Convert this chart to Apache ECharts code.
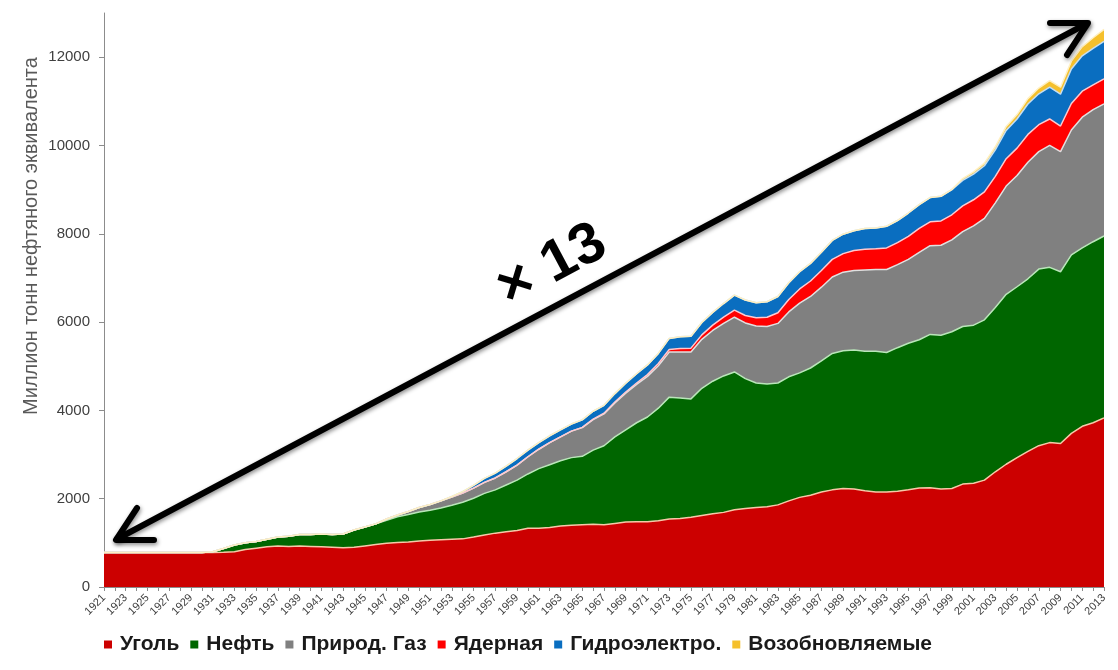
<!DOCTYPE html>
<html>
<head>
<meta charset="utf-8">
<script src="https://cdn.jsdelivr.net/npm/echarts@6/dist/echarts.min.js"></script>
<style>
  html, body { margin: 0; padding: 0; background: #fff; }
  #chart { width: 1118px; height: 670px; }
</style>
</head>
<body>
<div id="chart"></div>
<script>
// years on the x axis
var years = [
  '1921','1922','1923','1924','1925','1926','1927','1928','1929','1930',
  '1931','1932','1933','1934','1935','1936','1937','1938','1939','1940',
  '1941','1942','1943','1944','1945','1946','1947','1948','1949','1950',
  '1951','1952','1953','1954','1955','1956','1957','1958','1959','1960',
  '1961','1962','1963','1964','1965','1966','1967','1968','1969','1970',
  '1971','1972','1973','1974','1975','1976','1977','1978','1979','1980',
  '1981','1982','1983','1984','1985','1986','1987','1988','1989','1990',
  '1991','1992','1993','1994','1995','1996','1997','1998','1999','2000',
  '2001','2002','2003','2004','2005','2006','2007','2008','2009','2010',
  '2011','2012','2013'
];

// Mtoe per source (one row per decade)
var coal = [
  780, 780, 780, 780, 780, 780, 780, 780, 780, 780,
  780, 785, 800, 850, 880, 910, 930, 920, 930, 920,
  910, 900, 890, 900, 930, 960, 990, 1010, 1020, 1040,
  1060, 1070, 1080, 1090, 1130, 1180, 1220, 1250, 1280, 1330,
  1330, 1350, 1380, 1400, 1410, 1420, 1410, 1440, 1470, 1480,
  1480, 1500, 1540, 1550, 1580, 1620, 1660, 1690, 1750, 1780,
  1800, 1820, 1860, 1950, 2030, 2080, 2150, 2200, 2230, 2220,
  2180, 2150, 2150, 2170, 2200, 2240, 2250, 2220, 2230, 2330,
  2350, 2420, 2610, 2780, 2930, 3070, 3200, 3270, 3250, 3480,
  3640, 3720, 3830
];
var oil = [
  0, 0, 0, 0, 0, 0, 0, 0, 0, 0,
  20, 85, 150, 150, 150, 170, 200, 230, 260, 270,
  290, 290, 310, 390, 430, 470, 520, 580, 620, 660,
  680, 720, 770, 830, 880, 940, 980, 1060, 1140, 1230,
  1350, 1420, 1480, 1530, 1550, 1680, 1790, 1960, 2090, 2240,
  2370, 2550, 2760, 2730, 2680, 2880, 3000, 3090, 3120, 2940,
  2820, 2780, 2760, 2810, 2820, 2880, 2970, 3090, 3120, 3150,
  3160, 3190, 3160, 3250, 3320, 3360, 3470, 3480, 3550, 3570,
  3580, 3630, 3720, 3850, 3870, 3910, 4000, 3970, 3890, 4040,
  4040, 4100, 4120
];
var gas = [
  0, 0, 0, 0, 0, 0, 0, 0, 0, 0,
  0, 0, 0, 0, 0, 0, 0, 0, 0, 0,
  0, 0, 0, 0, 0, 0, 30, 40, 70, 100,
  130, 160, 190, 210, 230, 250, 270, 300, 340, 390,
  440, 500, 540, 600, 650, 690, 720, 770, 830, 870,
  920, 960, 1020, 1040, 1060, 1110, 1150, 1190, 1240, 1260,
  1290, 1300, 1350, 1470, 1580, 1620, 1670, 1730, 1780, 1800,
  1840, 1850, 1880, 1880, 1900, 1980, 2010, 2040, 2080, 2150,
  2250, 2300, 2370, 2450, 2520, 2640, 2660, 2760, 2720, 2830,
  2960, 2990, 2990
];
var nuclear = [
  0, 0, 0, 0, 0, 0, 0, 0, 0, 0,
  0, 0, 0, 0, 0, 0, 0, 0, 0, 0,
  0, 0, 0, 0, 0, 0, 0, 0, 0, 0,
  0, 0, 0, 0, 0, 0, 0, 0, 0, 0,
  0, 0, 0, 0, 5, 10, 15, 20, 25, 30,
  40, 50, 60, 80, 90, 100, 120, 140, 160, 170,
  190, 210, 240, 280, 320, 350, 380, 400, 420, 450,
  470, 470, 490, 500, 520, 540, 540, 550, 570, 580,
  590, 600, 600, 620, 620, 630, 610, 600, 580, 600,
  590, 560, 570
];
var hydro = [
  0, 0, 0, 0, 0, 0, 0, 0, 0, 0,
  0, 0, 0, 0, 0, 0, 0, 0, 0, 0,
  0, 0, 0, 0, 0, 0, 0, 0, 0, 0,
  0, 0, 10, 30, 60, 90, 110, 130, 150, 150,
  150, 155, 160, 160, 170, 180, 180, 190, 200, 210,
  220, 230, 250, 270, 270, 280, 290, 310, 340, 350,
  340, 350, 370, 380, 390, 400, 410, 430, 440, 450,
  470, 470, 490, 500, 530, 540, 550, 560, 570, 580,
  580, 590, 600, 640, 660, 690, 700, 720, 720, 780,
  800, 830, 850
];
var renewables = [
  0, 0, 0, 0, 0, 0, 0, 0, 0, 0,
  0, 0, 0, 0, 0, 0, 0, 0, 0, 0,
  0, 0, 0, 0, 0, 0, 0, 0, 0, 0,
  0, 0, 0, 0, 0, 0, 0, 0, 0, 0,
  0, 0, 0, 0, 0, 0, 0, 0, 0, 0,
  0, 0, 0, 0, 0, 0, 0, 0, 0, 0,
  0, 0, 0, 0, 0, 0, 0, 0, 0, 0,
  0, 0, 0, 0, 0, 0, 0, 0, 0, 40,
  50, 60, 70, 90, 100, 120, 130, 150, 160, 180,
  210, 240, 270
];

var seriesNames = ['Уголь', 'Нефть', 'Природ. Газ', 'Ядерная', 'Гидроэлектро.', 'Возобновляемые'];
var seriesData = [coal, oil, gas, nuclear, hydro, renewables];
var fillColors = ['#CC0000', '#006600', '#808080', '#FF0000', '#0A6EC0', '#F5C02C'];
var edgeColors = ['#F6C9A8', '#B9E6B9', '#E0E0E0', '#FFC9CF', '#C4DDF2', '#FFF0C2'];

var yTicks = { min: 0, max: 13000, interval: 2000 };
var yTitle = 'Миллион тонн нефтяного эквивалента';
var growthLabel = '× 13';

var FONT = 'Liberation Sans, Arial, sans-serif';

var chart = echarts.init(document.getElementById('chart'));

var series = seriesNames.map(function(name, i) {
  return {
    name: name,
    type: 'line',
    stack: 'total',
    data: seriesData[i],
    symbol: 'none',
    smooth: false,
    itemStyle: { color: fillColors[i] },
    lineStyle: { color: edgeColors[i], width: 1.5 },
    areaStyle: { color: fillColors[i], opacity: 1 },
    emphasis: { disabled: true }
  };
});

// the big double arrow and its label are drawn on top of the grid
var arrowStyle = {
  stroke: '#000',
  lineWidth: 6,
  lineCap: 'round',
  lineJoin: 'round',
  fill: null,
  shadowBlur: 4,
  shadowColor: 'rgba(0,0,0,0.45)',
  shadowOffsetX: 1,
  shadowOffsetY: 2
};

chart.setOption({
  animation: false,
  backgroundColor: '#fff',
  textStyle: { fontFamily: FONT },
  grid: { left: 104, right: 14, top: 13, bottom: 83 },
  legend: {
    data: seriesNames,
    left: 99,
    bottom: 10,
    icon: 'rect',
    itemWidth: 8,
    itemHeight: 8,
    itemGap: 11,
    selectedMode: false,
    textStyle: { fontSize: 21, fontWeight: 'bold', color: '#1a1a1a', fontFamily: FONT, padding: [0, 0, 0, 3] }
  },
  xAxis: {
    type: 'category',
    data: years,
    boundaryGap: false,
    axisLine: { lineStyle: { color: '#8c8c8c', width: 1 } },
    axisTick: { interval: 0, length: 4, lineStyle: { color: '#8c8c8c' } },
    axisLabel: { interval: 1, rotate: 45, fontSize: 11, color: '#404040', margin: 9, fontFamily: FONT },
    splitLine: { show: false }
  },
  yAxis: {
    type: 'value',
    min: yTicks.min,
    max: yTicks.max,
    interval: yTicks.interval,
    axisLine: { show: true, lineStyle: { color: '#8c8c8c', width: 1 } },
    axisTick: { show: true, length: 5, lineStyle: { color: '#8c8c8c' } },
    axisLabel: {
      fontSize: 15, color: '#404040', margin: 14, showMaxLabel: false, fontFamily: FONT,
      formatter: function(v) { return String(v); }
    },
    splitLine: { show: false }
  },
  series: series,
  graphic: [
    {
      type: 'text',
      x: 31, y: 236,
      rotation: Math.PI / 2,
      style: {
        text: yTitle,
        font: '20px ' + FONT,
        fill: '#595959',
        align: 'center', verticalAlign: 'middle',
        textAlign: 'center', textVerticalAlign: 'middle'
      }
    },
    { type: 'polyline', z: 100, shape: { points: [[117, 539], [1086, 24]] }, style: arrowStyle },
    { type: 'polyline', z: 100, shape: { points: [[137, 508], [116, 540], [154, 540]] }, style: arrowStyle },
    { type: 'polyline', z: 100, shape: { points: [[1050, 23], [1088, 23], [1067, 55]] }, style: arrowStyle },
    {
      type: 'text', z: 100,
      x: 552, y: 266,
      rotation: 0.49,
      style: {
        text: growthLabel,
        font: 'bold 58px ' + FONT,
        fill: '#000',
        align: 'center', verticalAlign: 'middle',
        textAlign: 'center', textVerticalAlign: 'middle',
        shadowBlur: 3, shadowColor: 'rgba(0,0,0,0.35)', shadowOffsetY: 1
      }
    }
  ]
});
</script>
</body>
</html>
